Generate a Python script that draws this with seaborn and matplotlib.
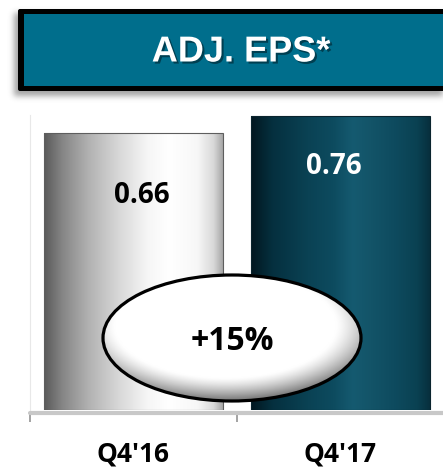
import numpy as np
import matplotlib
matplotlib.use("Agg")
import matplotlib.pyplot as plt
import matplotlib.patheffects as pe
from matplotlib.colors import LinearSegmentedColormap
from matplotlib.patches import Ellipse, FancyBboxPatch
import pandas as pd
import seaborn as sns

# ---- data -------------------------------------------------------------
quarters = ["Q4'16", "Q4'17"]
eps = [0.66, 0.76]
title_text = "ADJ. EPS*"

# ---- layout / style ---------------------------------------------------
W, H, DPI = 443, 467, 100
Y_MIN = -0.97            # value axis floor
PX_PER_UNIT = 170.0      # vertical scale of the value axis
label_colors = ["black", "white"]
label_offsets_px = [(8, -63), (-7, -51)]

bar_ramps = [
    [(0.00, "#5A5A5A"), (0.10, "#858585"), (0.25, "#B2B2B2"), (0.42, "#D8D8D8"),
     (0.58, "#F6F6F6"), (0.70, "#FFFFFF"), (0.86, "#F7F7F7"), (0.95, "#D8D8D8"),
     (1.00, "#A8A8A8")],
    [(0.00, "#021720"), (0.12, "#05303F"), (0.32, "#0A4254"), (0.46, "#0D4B5F"),
     (0.57, "#155A70"), (0.67, "#135468"), (0.80, "#0E4B5F"), (0.93, "#0A4152"),
     (1.00, "#07303E")],
]
bar_edges = ["#5E5E5E", "#0A242E"]

sns.set_theme(style="white")
plt.rcParams["font.family"] = ["Open Sans", "DejaVu Sans"]

fig = plt.figure(figsize=(W / DPI, H / DPI), dpi=DPI, facecolor="white")


def px_rect(x0, y_top, x1, y_bot):
    return [x0 / W, 1 - y_bot / H, (x1 - x0) / W, (y_bot - y_top) / H]


ax_top_px, ax_bot_px = 115, 410
ax = fig.add_axes(px_rect(30, ax_top_px, 444, ax_bot_px))
df = pd.DataFrame({"quarter": quarters, "eps": eps})
sns.barplot(data=df, x="quarter", y="eps", hue="quarter", ax=ax,
            width=0.86, legend=False, palette=["#DDDDDD", "#0B4457"])

y_max = Y_MIN + (ax_bot_px - ax_top_px) / PX_PER_UNIT

# bars rise from the axis floor, filled with a horizontal sheen
bars = [b for c in ax.containers for b in c]
for i, bar in enumerate(bars):
    value = bar.get_height()
    bar.set_y(Y_MIN)
    bar.set_height(value - Y_MIN)
    bar.set_facecolor("none")
    bar.set_edgecolor(bar_edges[i])
    bar.set_linewidth(0.8)
    bar.set_zorder(3)
    x0, w = bar.get_x(), bar.get_width()
    cmap = LinearSegmentedColormap.from_list(f"sheen{i}", bar_ramps[i])
    grad = np.linspace(0, 1, 256)[None, :]
    im = ax.imshow(grad, cmap=cmap, aspect="auto", interpolation="bilinear",
                   extent=(x0, x0 + w, Y_MIN, value), zorder=2)
    im.set_clip_path(bar)
    dx, dy = label_offsets_px[i]
    ax.annotate(f"{value:.2f}", xy=(x0 + w / 2, value), xytext=(dx, dy),
                textcoords="offset pixels", ha="center", va="center",
                fontsize=20, fontweight="bold", color=label_colors[i], zorder=5)

ax.set_xlim(-0.5, 1.5)
ax.set_ylim(Y_MIN, y_max)
ax.set_xlabel("")
ax.set_ylabel("")
ax.set_yticks([])
ax.set_facecolor("none")

sns.despine(ax=ax, top=True, right=True)
ax.spines["left"].set_color("#E8E8E8")
ax.spines["left"].set_linewidth(0.8)
ax.spines["bottom"].set_color("#C8C8C8")
ax.spines["bottom"].set_linewidth(3.0)
ax.spines["bottom"].set_capstyle("round")
ax.spines["bottom"].set_position(("outward", 2))

ax.set_xticks([-0.5, 0.5, 1.5], minor=True)
ax.tick_params(axis="x", which="minor", length=6.5, width=1.1, color="#8A8A8A",
               direction="out", bottom=True)
ax.tick_params(axis="x", which="major", length=0, pad=20, labelsize=19)
for t in ax.get_xticklabels():
    t.set_fontweight("bold")
    t.set_color("black")

# ---- overlay in figure pixel space: title banner and growth bubble ---
ov = fig.add_axes([0, 0, 1, 1])
ov.set_zorder(10)
ov.set_xlim(0, W)
ov.set_ylim(H, 0)
ov.axis("off")
ov.patch.set_alpha(0)


def blurred_box(n, lo, hi, sigma):
    line = np.zeros(n)
    line[int(lo):int(hi)] = 1.0
    k = np.arange(-4 * sigma, 4 * sigma + 1)
    kern = np.exp(-0.5 * (k / sigma) ** 2)
    kern /= kern.sum()
    return np.convolve(line, kern, mode="same")


sx = blurred_box(W, 14, W + 20, 3.0)
sy = blurred_box(H, 13, 96, 3.0)
shadow = np.zeros((H, W, 4))
shadow[..., :3] = 0.35
shadow[..., 3] = 0.55 * np.outer(sy, sx)
ov.imshow(shadow, extent=(0, W, H, 0), origin="upper", zorder=1,
          interpolation="bilinear")

ov.add_patch(FancyBboxPatch((18, 9), W + 20, 82,
                            boxstyle="round,pad=0,rounding_size=2",
                            facecolor="black", edgecolor="none", zorder=2))
ov.add_patch(FancyBboxPatch((24, 14), W + 20, 72,
                            boxstyle="square,pad=0",
                            facecolor="#006E8C", edgecolor="none", zorder=3))
ov.text(241, 52, title_text, ha="center", va="center", color="white",
        fontsize=26, fontweight="bold", family=["Liberation Sans", "DejaVu Sans"],
        zorder=4,
        path_effects=[pe.withSimplePatchShadow(offset=(1.5, -1.5),
                                               shadow_rgbFace="#00202A", alpha=0.6)])

# growth bubble
growth = round((eps[1] / eps[0] - 1) * 100)
cx, cy, a, b = 232, 338, 129, 63
ell = Ellipse((cx, cy), 2 * a, 2 * b, facecolor="none", edgecolor="black",
              linewidth=2.3, zorder=6)
ov.add_patch(ell)
xs = np.linspace(cx - a - 3, cx + a + 3, 300)
ys = np.linspace(cy - b - 3, cy + b + 3, 160)
XX, YY = np.meshgrid(xs, ys)
u = (XX - (cx - 0.05 * a)) / (1.1 * a)
v = (YY - (cy - 0.2 * b)) / (1.07 * b)
r = np.sqrt(u ** 2 + v ** 2)
shade = 1 - 0.5 * np.clip((r - 0.78) / 0.32, 0, 1) ** 1.3
rgb = np.dstack([shade, shade, shade])
bub = ov.imshow(rgb, extent=(xs[0], xs[-1], ys[-1], ys[0]), origin="upper",
                zorder=5, interpolation="bilinear")
bub.set_clip_path(ell)
ov.text(cx, cy + 3, f"+{growth}%", ha="center", va="center", color="black",
        fontsize=23, fontweight="bold", zorder=7)

fig.savefig("out.png", dpi=DPI, facecolor="white")
